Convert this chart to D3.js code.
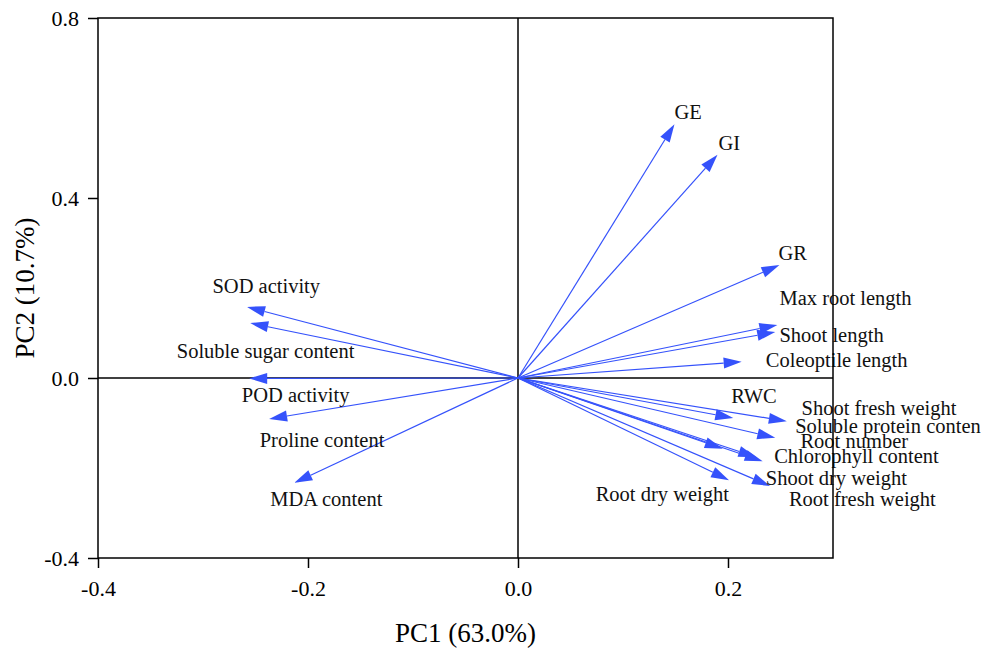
<!DOCTYPE html>
<html>
<head>
<meta charset="utf-8">
<script src="https://cdn.jsdelivr.net/npm/d3@7.9.0/dist/d3.min.js"></script>
<style>
  html, body { margin: 0; padding: 0; background: #fff; }
  svg { display: block; font-family: "Liberation Serif", "Times New Roman", serif; }
</style>
</head>
<body>
<svg id="chart" width="991" height="652"></svg>
<script>
// loadings
const variables = [
  'GE', 'GI', 'GR', 'Max root length', 'Shoot length', 'Coleoptile length',
  'RWC', 'Shoot fresh weight', 'Soluble protein conten', 'Root number',
  'Chlorophyll content', 'Shoot dry weight', 'Root fresh weight', 'Root dry weight',
  'SOD activity', 'Soluble sugar content', 'POD activity', 'Proline content', 'MDA content'
];
const pc1 = [
  0.149, 0.190, 0.249, 0.247, 0.245, 0.213,
  0.205, 0.256, 0.245, 0.195,
  0.233, 0.227, 0.240, 0.201,
  -0.258, -0.255, -0.256, -0.237, -0.213
];
const pc2 = [
  0.564, 0.496, 0.251, 0.118, 0.102, 0.036,
  -0.089, -0.096, -0.133, -0.157,
  -0.185, -0.176, -0.240, -0.227,
  0.158, 0.122, -0.001, -0.091, -0.233
];
// where each label sits (left edge / baseline, in data units)
const labelX = [
  0.149, 0.191, 0.248, 0.249, 0.249, 0.236,
  0.203, 0.270, 0.264, 0.269,
  0.244, 0.236, 0.258, 0.074,
  -0.291, -0.325, -0.263, -0.246, -0.236
];
const labelY = [
  0.575, 0.507, 0.262, 0.162, 0.080, 0.024,
  -0.056, -0.082, -0.122, -0.156,
  -0.188, -0.238, -0.284, -0.273,
  0.190, 0.044, -0.053, -0.153, -0.284
];

const xTicks = [-0.4, -0.2, 0.0, 0.2];
const yTicks = [-0.4, 0.0, 0.4, 0.8];

const margin = { top: 18, right: 158, bottom: 94, left: 98 };
const W = 991, H = 652;
const svg = d3.select('#chart');

const x = d3.scaleLinear().domain([-0.4, 0.3]).range([margin.left, W - margin.right]);
const y = d3.scaleLinear().domain([-0.4, 0.8]).range([H - margin.bottom, margin.top]);

const blue = '#3552fb';

// zero lines
svg.append('line')
  .attr('x1', x(0)).attr('x2', x(0))
  .attr('y1', y(0.8)).attr('y2', y(-0.4))
  .attr('stroke', '#000').attr('stroke-width', 1.5);
svg.append('line')
  .attr('x1', x(-0.4)).attr('x2', x(0.3))
  .attr('y1', y(0)).attr('y2', y(0))
  .attr('stroke', '#000').attr('stroke-width', 1.5);

// arrows
const data = variables.map((v, i) => ({ name: v, x: pc1[i], y: pc2[i], lx: labelX[i], ly: labelY[i] }));
const headLen = 18, headHalf = 5.5;

const g = svg.append('g');
data.forEach(d => {
  const x0 = x(0), y0 = y(0), x1 = x(d.x), y1 = y(d.y);
  const len = Math.hypot(x1 - x0, y1 - y0);
  const ux = (x1 - x0) / len, uy = (y1 - y0) / len;
  const bx = x1 - ux * headLen, by = y1 - uy * headLen;
  g.append('line')
    .attr('x1', x0).attr('y1', y0)
    .attr('x2', bx).attr('y2', by)
    .attr('stroke', blue).attr('stroke-width', 1.2);
  g.append('path')
    .attr('d', `M${x1},${y1}L${bx - uy * headHalf},${by + ux * headHalf}L${bx + uy * headHalf},${by - ux * headHalf}Z`)
    .attr('fill', blue);
});

// labels
svg.append('g')
  .selectAll('text')
  .data(data)
  .join('text')
  .attr('x', d => x(d.lx))
  .attr('y', d => y(d.ly))
  .attr('font-size', 20.5)
  .attr('fill', '#111')
  .text(d => d.name);

// frame
svg.append('rect')
  .attr('x', x(-0.4)).attr('y', y(0.8))
  .attr('width', x(0.3) - x(-0.4)).attr('height', y(-0.4) - y(0.8))
  .attr('fill', 'none').attr('stroke', '#000').attr('stroke-width', 1.5);

// axes (plain hyphen for negatives, like the original)
const fmt = d => d3.format('.1f')(d).replace('−', '-');
const xAxis = svg.append('g')
  .attr('transform', `translate(0,${y(-0.4)})`)
  .call(d3.axisBottom(x).tickValues(xTicks).tickFormat(fmt).tickSize(10).tickSizeOuter(0));
const yAxis = svg.append('g')
  .attr('transform', `translate(${x(-0.4)},0)`)
  .call(d3.axisLeft(y).tickValues(yTicks).tickFormat(fmt).tickSize(10).tickSizeOuter(0));

[xAxis, yAxis].forEach(a => {
  a.select('.domain').remove();
  a.selectAll('line').attr('stroke', '#000').attr('stroke-width', 1.5);
  a.selectAll('text')
    .attr('font-family', '"Liberation Serif", serif')
    .attr('font-size', 22)
    .attr('fill', '#000');
});
xAxis.selectAll('text').attr('y', 38).attr('dy', 0);
yAxis.selectAll('text').attr('x', -19);

// titles
svg.append('text')
  .attr('x', (x(-0.4) + x(0.3)) / 2)
  .attr('y', 642)
  .attr('text-anchor', 'middle')
  .attr('font-size', 27)
  .text('PC1 (63.0%)');

svg.append('text')
  .attr('transform', `translate(34,${(y(0.8) + y(-0.4)) / 2}) rotate(-90)`)
  .attr('text-anchor', 'middle')
  .attr('font-size', 27)
  .text('PC2 (10.7%)');
</script>
</body>
</html>
